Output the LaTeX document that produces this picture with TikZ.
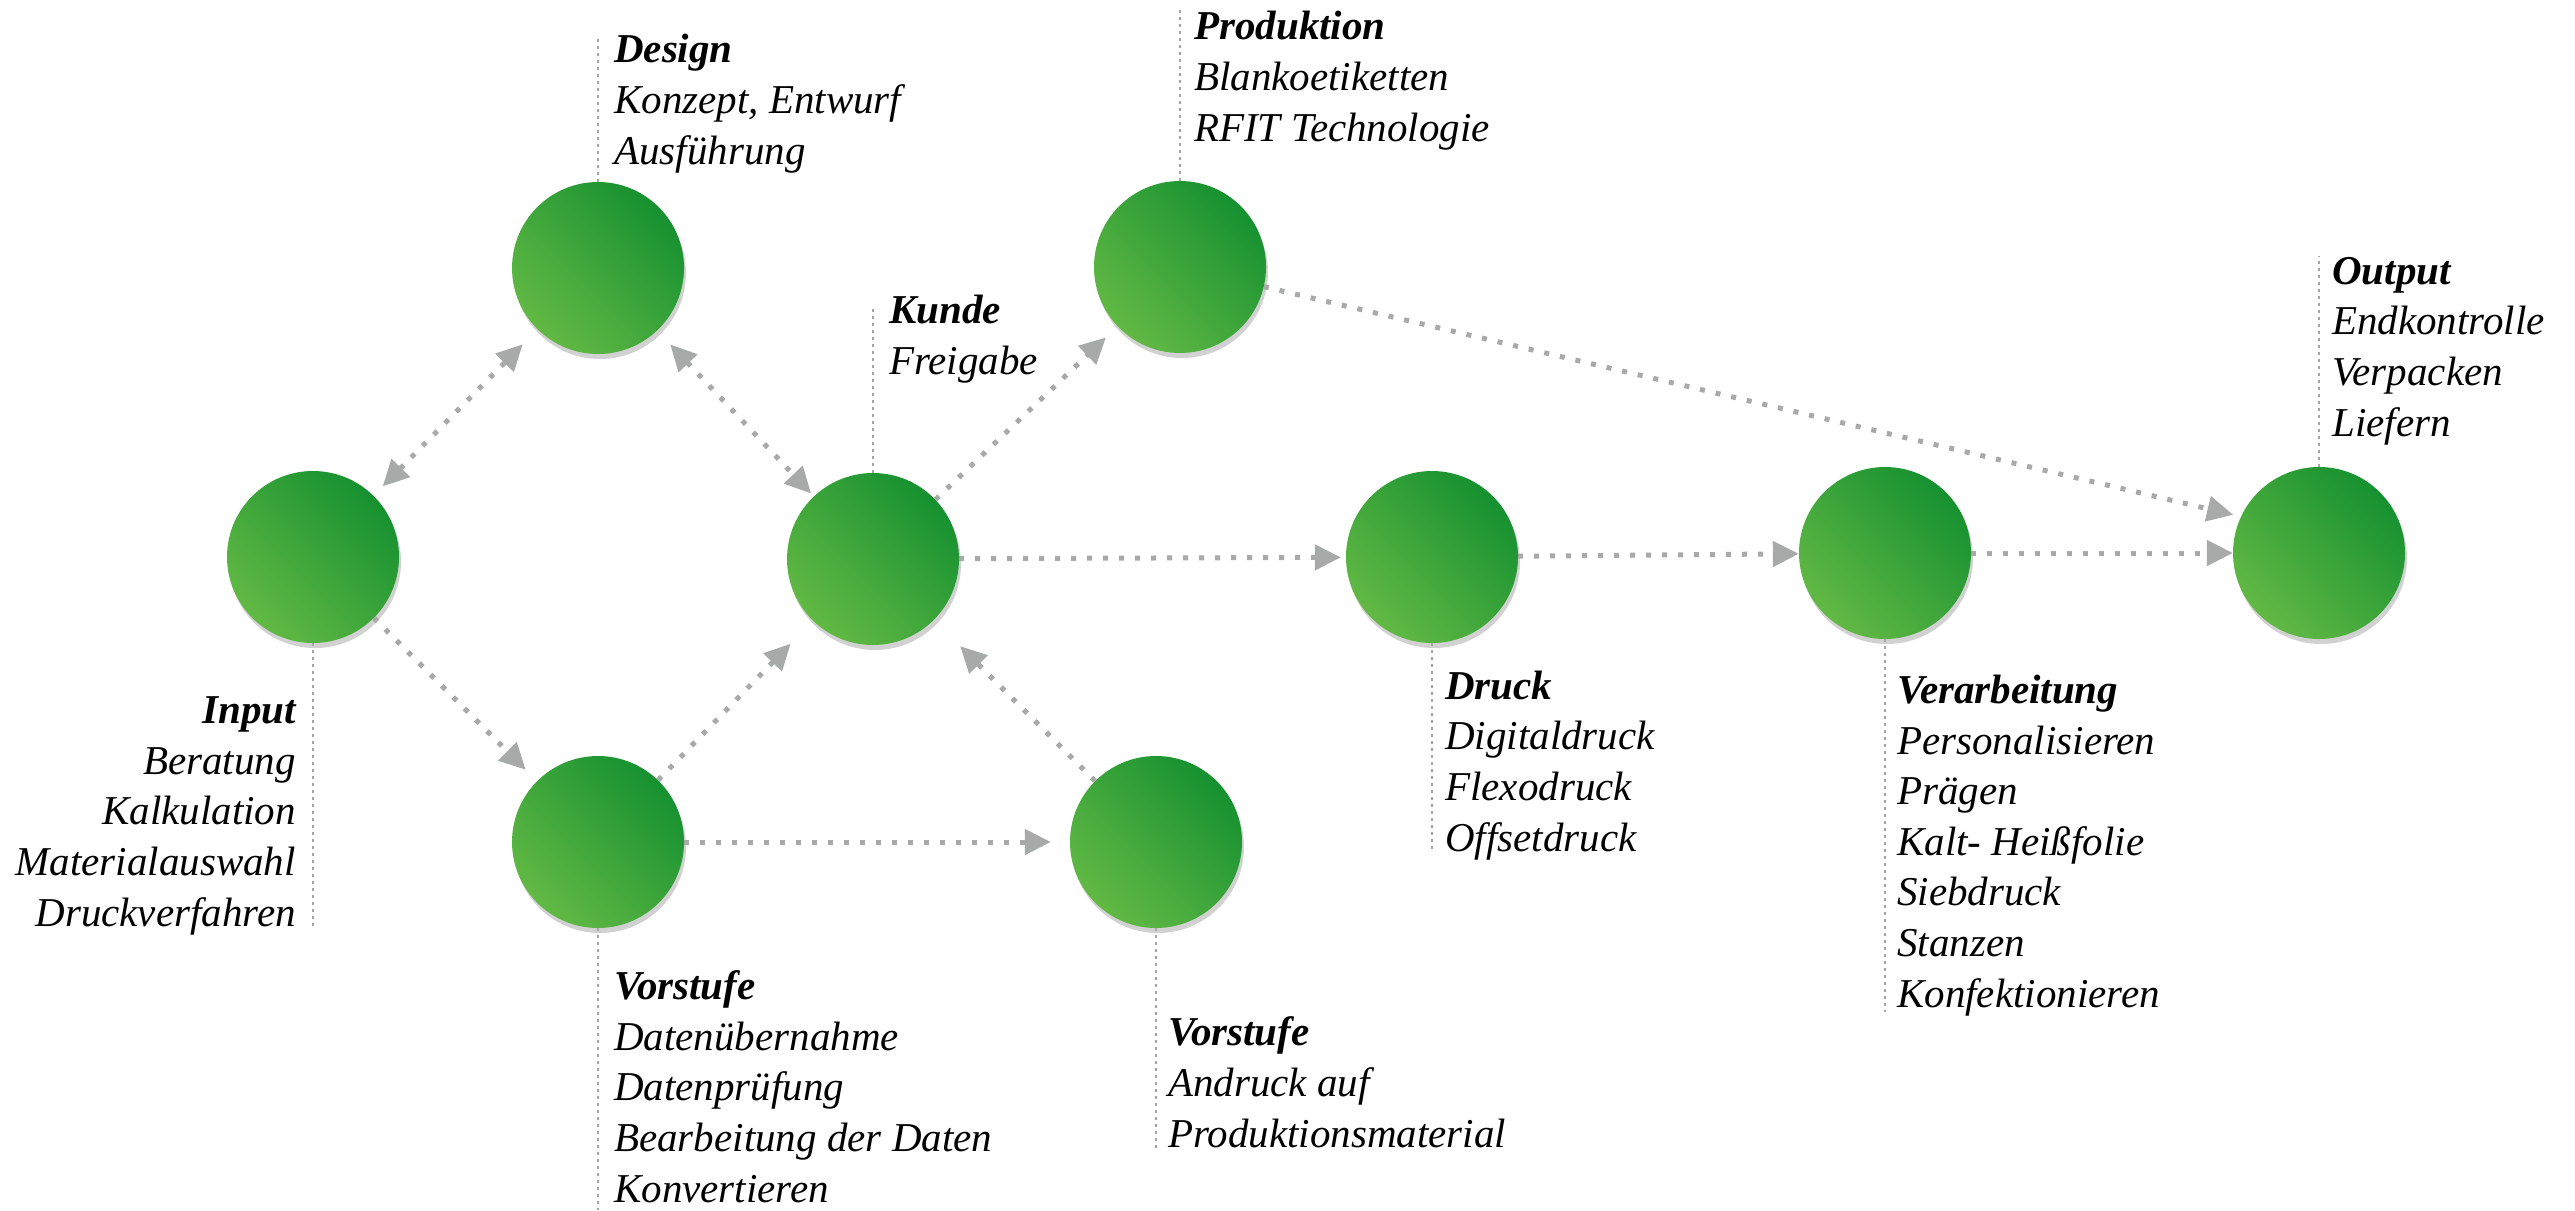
\documentclass[tikz,border=0pt]{standalone}
\usepackage{fontspec}
\setmainfont{Liberation Serif}
\usetikzlibrary{arrows.meta,shadows}
\definecolor{gdark}{RGB}{22,145,48}
\definecolor{glight}{RGB}{98,185,68}
\definecolor{arrowgray}{RGB}{168,170,169}
\definecolor{guidegray}{RGB}{165,165,165}
\begin{document}
\begin{tikzpicture}[x=1pt,y=-1pt,
  stage/.style={circle, minimum size=172pt, inner sep=0pt, left color=glight, right color=gdark, shading angle=135,
    drop shadow={shadow xshift=2pt, shadow yshift=-5pt, opacity=0.18, fill=black}},
  flow/.style={draw=arrowgray, line width=5pt, dash pattern=on 5pt off 11pt, -{Triangle[length=26pt,width=25pt]}},
  flow2/.style={draw=arrowgray, line width=5pt, dash pattern=on 5pt off 11pt, {Triangle[length=26pt,width=25pt]}-{Triangle[length=26pt,width=25pt]}},
  guide/.style={draw=guidegray, line width=1.8pt, dash pattern=on 3pt off 4pt},
  lbl/.style={font=\fontsize{41}{50.6}\selectfont\itshape, inner sep=0pt, align=left, anchor=base west},
]
\useasboundingbox (0,0) rectangle (2575,1210);
% stages
\node[stage] (input) at (313,557) {};
\node[stage] (design) at (598,268) {};
\node[stage] (kunde) at (873,559) {};
\node[stage] (produktion) at (1180,267) {};
\node[stage] (vor1) at (598,842) {};
\node[stage] (vor2) at (1156,842) {};
\node[stage] (druck) at (1432,557) {};
\node[stage] (verarb) at (1885,553) {};
\node[stage] (output) at (2319,553) {};
% guides
\draw[guide] (design.north) -- (598,38);
\draw[guide] (produktion.north) -- (1180,10);
\draw[guide] (kunde.north) -- (873,305);
\draw[guide] (output.north) -- (2319,256);
\draw[guide] (input.south) -- (313,927);
\draw[guide] (vor1.south) -- (598,1210);
\draw[guide] (vor2.south) -- (1156,1149);
\draw[guide] (druck.south) -- (1432,853);
\draw[guide] (verarb.south) -- (1885,1012);
% labels (anchored at the baseline of their last line)
\node[lbl] (tdesign) at (614,164) {\textbf{Design}\\Konzept, Entwurf\\Ausführung};
\node[lbl] (tprod) at (1194,141) {\textbf{Produktion}\\Blankoetiketten\\RFIT Technologie};
\node[lbl] (tkunde) at (889,374) {\textbf{Kunde}\\Freigabe};
\node[lbl] (toutput) at (2332,436) {\textbf{Output}\\Endkontrolle\\Verpacken\\Liefern};
\node[lbl, align=right, anchor=base east] (tinput) at (296,926) {\textbf{Input}\\Beratung\\Kalkulation\\Materialauswahl\\Druckverfahren};
\node[lbl] (tvor1) at (614,1202) {\textbf{Vorstufe}\\Datenübernahme\\Datenprüfung\\Bearbeitung der Daten\\Konvertieren};
\node[lbl] (tvor2) at (1168,1147) {\textbf{Vorstufe}\\Andruck auf\\Produktionsmaterial};
\node[lbl] (tdruck) at (1445,851) {\textbf{Druck}\\Digitaldruck\\Flexodruck\\Offsetdruck};
\node[lbl] (tverarb) at (1897,1007) {\textbf{Verarbeitung}\\Personalisieren\\Prägen\\Kalt- Heißfolie\\Siebdruck\\Stanzen\\Konfektionieren};
% connectors
\draw[flow2, shorten <=13pt, shorten >=21pt] (input) -- (design);
\draw[flow2, shorten <=19pt, shorten >=4pt] (design) -- (kunde);
\draw[flow, shorten >=16pt] (kunde) -- (produktion);
\draw[flow, shorten >=5pt] (kunde) -- (druck);
\draw[flow] (druck) -- (verarb);
\draw[flow] (verarb) -- (output);
\draw[flow, shorten >=8pt] (produktion) -- (output.155);
\draw[flow, shorten >=16pt] (input) -- (vor1);
\draw[flow, shorten >=32pt] (vor1) -- (kunde);
\draw[flow, shorten >=19pt] (vor1) -- (vor2);
\draw[flow, shorten >=37pt] (vor2) -- (kunde);
\end{tikzpicture}
\end{document}
